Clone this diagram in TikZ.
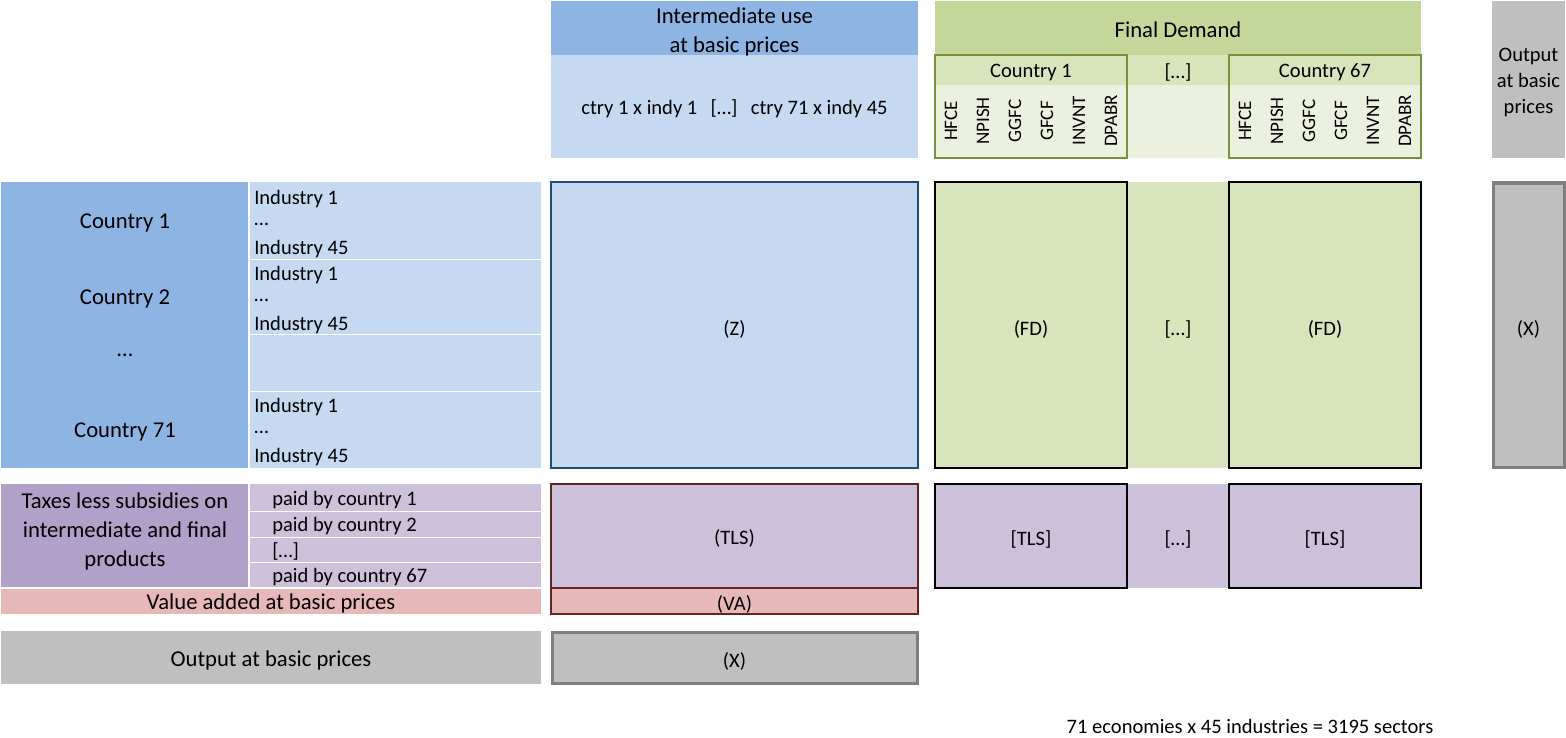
\documentclass[tikz,border=0pt]{standalone}
\usepackage{fontspec}
\setmainfont{Carlito}
\definecolor{IOblue}{HTML}{8DB4E2}
\definecolor{IOlight}{HTML}{C5D9F1}
\definecolor{IOedge}{HTML}{1F4E79}
\definecolor{FDdark}{HTML}{C4D79B}
\definecolor{FDmid}{HTML}{D8E4BC}
\definecolor{FDlight}{HTML}{EBF1DE}
\definecolor{FDedge}{HTML}{76933C}
\definecolor{TLSdark}{HTML}{B1A0C7}
\definecolor{TLSlight}{HTML}{CCC0DA}
\definecolor{TLSedge}{HTML}{632523}
\definecolor{VApink}{HTML}{E6B8B7}
\definecolor{OUTgray}{HTML}{BFBFBF}
\definecolor{OUTedge}{HTML}{7F7F7F}
\usetikzlibrary{positioning}

\begin{document}
\begin{tikzpicture}[x=0.75pt, y=-0.75pt,
   lbl/.style={font=\fontsize{15.4}{19.5}\selectfont, inner sep=0pt, align=center, yshift=-1.5pt},
   big/.style={font=\fontsize{17}{21.75}\selectfont, inner sep=0pt, align=center, yshift=-1.5pt},
   vlbl/.style={font=\fontsize{14.3}{17}\selectfont, inner sep=0pt, rotate=90},
   rowlbl/.style={font=\fontsize{15.4}{19.5}\selectfont, inner sep=0pt, anchor=west, yshift=-1.5pt}]
   \useasboundingbox (0,0) rectangle (1566,738);
   % header: intermediate use
   \fill[IOblue] (551,1) rectangle (918,55);
   \fill[IOlight] (551,55) rectangle (918,158);
   \node[big] (imhead) at (734.5,30) {Intermediate use\\at basic prices};
   \node[lbl] (imcols) at (734.5,107) {ctry 1 x indy 1\hspace{0.65em}[…]\hspace{0.65em}ctry 71 x indy 45};
   % header: final demand
   \fill[FDdark] (935,1) rectangle (1421,55);
   \fill[FDmid] (935,55) rectangle (1421,85);
   \fill[FDlight] (935,85) rectangle (1421,158);
   \draw[FDedge, line width=1.5pt] (935,55) rectangle (1127,158);
   \draw[FDedge, line width=1.5pt] (1229,55) rectangle (1421,158);
   \node[big] (fdhead) at (1178,28) {Final Demand};
   \node[lbl] (fdc1) at (1031,70) {Country 1};
   \node[lbl] (fddots) at (1178,70) {[…]};
   \node[lbl] (fdc67) at (1325,70) {Country 67};
   \foreach \cat [count=\i from 0] in {HFCE,NPISH,GGFC,GFCF,INVNT,DPABR} {
      \node[vlbl] (fa\i) at (951+32*\i,121) {\cat};
      \node[vlbl] (fb\i) at (1245+32*\i,121) {\cat};
   }
   % header: output
   \fill[OUTgray] (1492,1) rectangle (1565,158);
   \node[lbl] (outhead) at (1528.5,80) {Output\\at basic\\prices};
   % rows: countries and industries
   \fill[IOblue] (1,182) rectangle (248,468);
   \fill[IOlight] (250,182) rectangle (541,468);
   \foreach \y in {259,334,391}
      \draw[white] (250,\y) -- (541,\y);
   \node[big] (c1) at (125,221) {Country 1};
   \node[big] (c2) at (125,297) {Country 2};
   \node[big] (cdots) at (125,353) {…};
   \node[big] (c71) at (125,430) {Country 71};
   \foreach \y [count=\k] in {197,273,405} {
      \node[rowlbl] (ind\k a) at (254,\y) {Industry 1};
      \node[rowlbl] (ind\k b) at (254,\y+25) {…};
      \node[rowlbl] (ind\k c) at (254,\y+50) {Industry 45};
   }
   % Z block
   \filldraw[fill=IOlight, draw=IOedge, line width=1.5pt] (551,182) rectangle (918,468);
   \node[lbl] (Z) at (734.5,327) {(Z)};
   % FD blocks
   \fill[FDmid] (1127,182) rectangle (1229,468);
   \filldraw[fill=FDmid, draw=black, line width=1.5pt] (935,182) rectangle (1127,468);
   \filldraw[fill=FDmid, draw=black, line width=1.5pt] (1229,182) rectangle (1421,468);
   \node[lbl] (fd1) at (1031,327) {(FD)};
   \node[lbl] (fdmid) at (1178,327) {[…]};
   \node[lbl] (fd67) at (1325,327) {(FD)};
   % X column
   \filldraw[fill=OUTgray, draw=OUTedge, line width=2.25pt] (1493,183) rectangle (1564,467);
   \node[lbl] (xcol) at (1528.5,327) {(X)};
   % taxes less subsidies
   \fill[TLSdark] (1,484) rectangle (248,587);
   \fill[TLSlight] (250,484) rectangle (541,587);
   \foreach \y in {511,537,562}
      \draw[white] (250,\y) -- (541,\y);
   \node[big] (tlshead) at (125,529) {Taxes less subsidies on\\intermediate and final\\products};
   \node[rowlbl] (pay1) at (272,498) {paid by country 1};
   \node[rowlbl] (pay2) at (272,524) {paid by country 2};
   \node[rowlbl] (paydots) at (272,549) {[…]};
   \node[rowlbl] (pay67) at (272,575) {paid by country 67};
   \filldraw[fill=TLSlight, draw=TLSedge, line width=1.5pt] (551,484) rectangle (918,588);
   \node[lbl] (tls) at (734.5,536) {(TLS)};
   \fill[TLSlight] (1127,484) rectangle (1229,588);
   \filldraw[fill=TLSlight, draw=black, line width=1.5pt] (935,484) rectangle (1127,588);
   \filldraw[fill=TLSlight, draw=black, line width=1.5pt] (1229,484) rectangle (1421,588);
   \node[lbl] (tls1) at (1031,537) {[TLS]};
   \node[lbl] (tlsmid) at (1178,537) {[…]};
   \node[lbl] (tls67) at (1325,537) {[TLS]};
   % value added
   \fill[VApink] (1,589) rectangle (541,614);
   \node[big] (vahead) at (271,601) {Value added at basic prices};
   \filldraw[fill=VApink, draw=TLSedge, line width=1.5pt] (551,588) rectangle (918,614);
   \node[lbl] (va) at (734.5,602) {(VA)};
   % output row
   \fill[OUTgray] (1,631) rectangle (541,684);
   \node[big] (outrow) at (271,658) {Output at basic prices};
   \filldraw[fill=OUTgray, draw=OUTedge, line width=2.25pt] (552,632) rectangle (917,683);
   \node[lbl] (xrow) at (734.5,659) {(X)};
   % note
   \node[lbl] (note) at (1250,724) {71 economies x 45 industries = 3195 sectors};
\end{tikzpicture}
\end{document}
